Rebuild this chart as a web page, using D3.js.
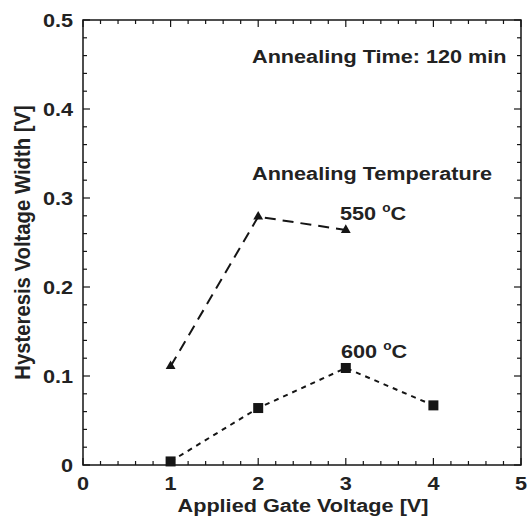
<!DOCTYPE html>
<html>
<head>
<meta charset="utf-8">
<script src="https://cdn.jsdelivr.net/npm/d3@7"></script>
<style>
  body { margin: 0; background: #fff; }
  text { font-family: "Liberation Sans", Arial, sans-serif; font-weight: bold; fill: #222; }
</style>
</head>
<body>
<div id="chart"></div>
<script>
// data
var gateV = [1, 2, 3, 4];
var width550 = [0.111, 0.279, 0.264];       // triangles, 550 C
var width600 = [0.004, 0.064, 0.109, 0.067]; // squares, 600 C
var xTicks = [0, 1, 2, 3, 4, 5];
var yTicks = [0, 0.1, 0.2, 0.3, 0.4, 0.5];

var W = 528, H = 519;
var margin = { left: 83, right: 7, top: 20, bottom: 54 };
var FS = 19;       // font size
var SX = 1.14;     // the scanned figure's text is a bit wide

var svg = d3.select("#chart").append("svg")
  .attr("width", W)
  .attr("height", H);

var x = d3.scaleLinear().domain([0, 5]).range([margin.left, W - margin.right]);
var y = d3.scaleLinear().domain([0, 0.5]).range([H - margin.bottom, margin.top]);

var x0 = x(0), x1 = x(5), y0 = y(0), y1 = y(0.5);

// text stretched horizontally, anchored at (tx, ty)
function wideText(tx, ty, anchor) {
  return svg.append("text")
    .attr("transform", "translate(" + tx + "," + ty + ") scale(" + SX + ",1)")
    .attr("text-anchor", anchor || "start")
    .attr("font-size", FS);
}

// frame
svg.append("rect")
  .attr("x", x0).attr("y", y1)
  .attr("width", x1 - x0).attr("height", y0 - y1)
  .attr("fill", "none").attr("stroke", "#151515").attr("stroke-width", 1.5);

// ticks, inward on all four sides
var xMinor = d3.range(0, 5.001, 0.2);
var yMinor = d3.range(0, 0.5001, 0.02);
var ticks = svg.append("g").attr("stroke", "#151515").attr("stroke-width", 1.2);

xMinor.forEach(function (v) {
  var major = Math.abs(v - Math.round(v)) < 1e-6;
  var len = major ? 7 : 4;
  ticks.append("line").attr("x1", x(v)).attr("x2", x(v)).attr("y1", y0).attr("y2", y0 - len);
  ticks.append("line").attr("x1", x(v)).attr("x2", x(v)).attr("y1", y1).attr("y2", y1 + len);
});
yMinor.forEach(function (v) {
  var major = Math.abs(v * 10 - Math.round(v * 10)) < 1e-6;
  var len = major ? 7 : 4;
  ticks.append("line").attr("y1", y(v)).attr("y2", y(v)).attr("x1", x0).attr("x2", x0 + len);
  ticks.append("line").attr("y1", y(v)).attr("y2", y(v)).attr("x1", x1).attr("x2", x1 - len);
});

// tick labels
xTicks.forEach(function (d) {
  wideText(x(d), y0 + 25, "middle").text(d);
});
yTicks.forEach(function (d) {
  wideText(x0 - 10, y(d) + 7, "end").text(d === 0 ? "0" : d.toFixed(1));
});

// axis titles
wideText((x0 + x1) / 2 + 1, H - 7, "middle").text("Applied Gate Voltage [V]");

svg.append("text")
  .attr("transform", "translate(30," + ((y0 + y1) / 2 + 0) + ") rotate(-90) scale(1,1.08)")
  .attr("text-anchor", "middle")
  .attr("font-size", 20.3)
  .text("Hysteresis Voltage Width [V]");

// series lines
var line = d3.line().x(d => x(d[0])).y(d => y(d[1]));
var pts550 = width550.map((v, i) => [gateV[i], v]);
var pts600 = width600.map((v, i) => [gateV[i], v]);

svg.append("path").datum(pts550)
  .attr("d", line)
  .attr("fill", "none").attr("stroke", "#151515").attr("stroke-width", 2)
  .attr("stroke-dasharray", "11,7");

svg.append("path").datum(pts600)
  .attr("d", line)
  .attr("fill", "none").attr("stroke", "#151515").attr("stroke-width", 2)
  .attr("stroke-dasharray", "5,5");

// markers
svg.selectAll(".tri").data(pts550).enter().append("path")
  .attr("d", d3.symbol().type(d3.symbolTriangle).size(42))
  .attr("transform", d => "translate(" + x(d[0]) + "," + y(d[1]) + ")")
  .attr("fill", "#151515");

svg.selectAll(".sq").data(pts600).enter().append("rect")
  .attr("x", d => x(d[0]) - 5).attr("y", d => y(d[1]) - 5)
  .attr("width", 10).attr("height", 10)
  .attr("fill", "#151515");

// annotations
wideText(252, 63).text("Annealing Time: 120 min");
wideText(252, 180).text("Annealing Temperature");

function degLabel(tx, ty, num) {
  var t = wideText(tx, ty);
  t.append("tspan").text(num + " ");
  t.append("tspan").attr("dy", -8).attr("font-size", 12).text("o");
  t.append("tspan").attr("dy", 8).text("C");
}
degLabel(340, 220, 550);
degLabel(341, 358, 600);
</script>
</body>
</html>
